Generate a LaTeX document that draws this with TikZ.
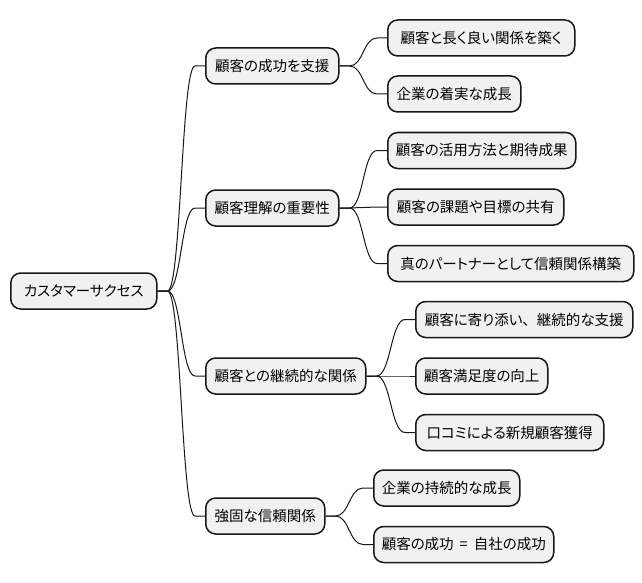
\documentclass[tikz,border=0pt]{standalone}
\usepackage{fontspec}
\setmainfont[RawFeature=+palt]{Noto Sans CJK JP}
\newfontfamily\fullwidthfont{Noto Sans CJK JP}
\usetikzlibrary{calc}
\definecolor{boxfill}{HTML}{F1F1F1}
\definecolor{boxline}{HTML}{181818}
\tikzset{
  mmbox/.style={draw=boxline, fill=boxfill, line width=1.5pt, rounded corners=10pt,
    minimum height=36pt, inner xsep=0pt, inner ysep=0pt, anchor=west,
    font=\fontsize{14.5}{17}\selectfont, text=black},
  mmedge/.style={draw=boxline, line width=1pt}
}
\newcommand\mmlink[2]{%
  \path (#1.east) ++(10,0) coordinate (p1);
  \path (#2.west) ++(-10,0) coordinate (p2);
  \coordinate (pm) at ($(p1)!0.5!(p2)$);
  \draw[mmedge] (#1.east) -- (p1) .. controls (pm |- p1) and (pm |- p2) .. (p2) -- (#2.west);
}
\begin{document}
\begin{tikzpicture}[x=1pt,y=-1pt]
\useasboundingbox (0,0) rectangle (642,583);
\fill[white] (0,0) rectangle (642,583);
\node[mmbox, minimum width=146pt] (root) at (10,291) {カスタマーサクセス};
\node[mmbox, minimum width=133pt] (a1) at (205,66) {顧客の成功を支援};
\node[mmbox, minimum width=133pt] (a2) at (205,208) {顧客理解の重要性};
\node[mmbox, minimum width=160pt] (a3) at (205,376) {顧客との継続的な関係};
\node[mmbox, minimum width=119pt] (a4) at (205,516) {強固な信頼関係};
\node[mmbox, minimum width=187pt] (b1) at (387,38) {顧客と長く良い関係を築く};
\node[mmbox, minimum width=133pt] (b2) at (387,94) {企業の着実な成長};
\node[mmbox, minimum width=188pt] (b3) at (387,150.5) {顧客の活用方法と期待成果};
\node[mmbox, minimum width=176pt] (b4) at (387,207) {顧客の課題や目標の共有};
\node[mmbox, minimum width=246pt] (b5) at (387,263.5) {真のパートナーとして信頼関係構築};
\node[mmbox, minimum width=217pt] (c1) at (415,319.5) {顧客に寄り添い{\fullwidthfont 、}継続的な支援};
\node[mmbox, minimum width=132pt] (c2) at (415,376) {顧客満足度の向上};
\node[mmbox, minimum width=188pt] (c3) at (415,432.5) {口コミによる新規顧客獲得};
\node[mmbox, minimum width=146pt] (d1) at (373,488) {企業の持続的な成長};
\node[mmbox, minimum width=180pt] (d2) at (373,544.5) {顧客の成功\hspace{6pt}=\hspace{6pt}自社の成功};
\mmlink{root}{a1}
\mmlink{root}{a2}
\mmlink{root}{a3}
\mmlink{root}{a4}
\mmlink{a1}{b1}
\mmlink{a1}{b2}
\mmlink{a2}{b3}
\mmlink{a2}{b4}
\mmlink{a2}{b5}
\mmlink{a3}{c1}
\mmlink{a3}{c2}
\mmlink{a3}{c3}
\mmlink{a4}{d1}
\mmlink{a4}{d2}
\end{tikzpicture}
\end{document}
